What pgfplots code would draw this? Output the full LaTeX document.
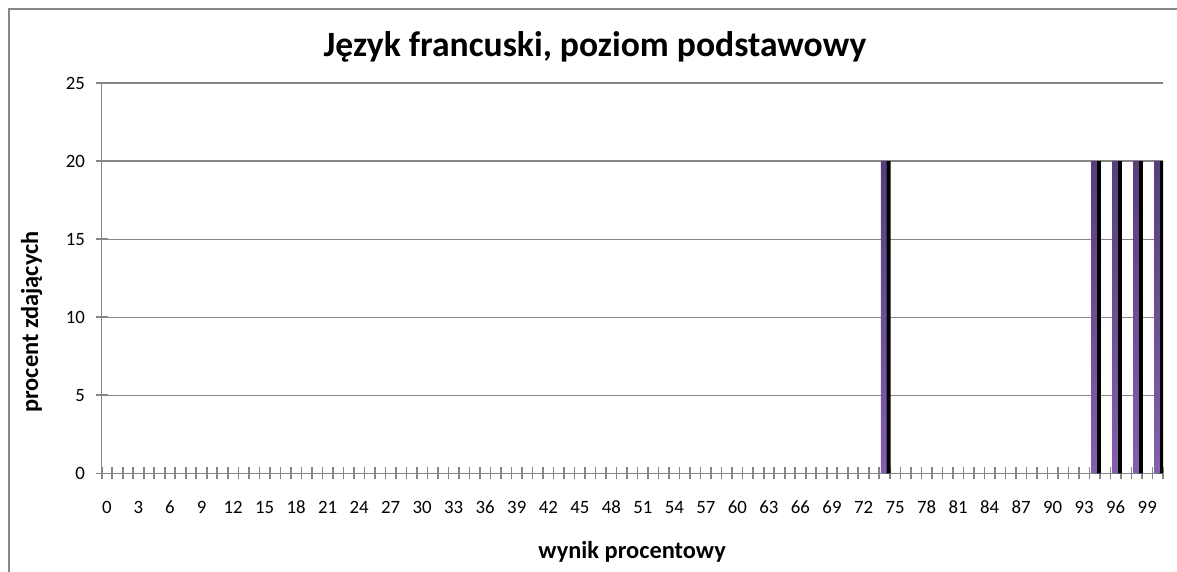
\documentclass[border=0pt]{standalone}
\usepackage{pgfplots}
\usepackage{pgfplotstable}
\pgfplotsset{compat=1.18}
\usepackage{fontspec}
\setmainfont{Carlito}
\definecolor{gridgray}{RGB}{134,134,134}
\definecolor{purpletop}{RGB}{88,62,124}
\definecolor{purplebot}{RGB}{130,96,172}

\pgfplotstableread[row sep=\\]{
x y\\
0 0\\ 1 0\\ 2 0\\ 3 0\\ 4 0\\ 5 0\\ 6 0\\ 7 0\\ 8 0\\ 9 0\\
10 0\\ 11 0\\ 12 0\\ 13 0\\ 14 0\\ 15 0\\ 16 0\\ 17 0\\ 18 0\\ 19 0\\
20 0\\ 21 0\\ 22 0\\ 23 0\\ 24 0\\ 25 0\\ 26 0\\ 27 0\\ 28 0\\ 29 0\\
30 0\\ 31 0\\ 32 0\\ 33 0\\ 34 0\\ 35 0\\ 36 0\\ 37 0\\ 38 0\\ 39 0\\
40 0\\ 41 0\\ 42 0\\ 43 0\\ 44 0\\ 45 0\\ 46 0\\ 47 0\\ 48 0\\ 49 0\\
50 0\\ 51 0\\ 52 0\\ 53 0\\ 54 0\\ 55 0\\ 56 0\\ 57 0\\ 58 0\\ 59 0\\
60 0\\ 61 0\\ 62 0\\ 63 0\\ 64 0\\ 65 0\\ 66 0\\ 67 0\\ 68 0\\ 69 0\\
70 0\\ 71 0\\ 72 0\\ 73 0\\ 74 20\\ 75 0\\ 76 0\\ 77 0\\ 78 0\\ 79 0\\
80 0\\ 81 0\\ 82 0\\ 83 0\\ 84 0\\ 85 0\\ 86 0\\ 87 0\\ 88 0\\ 89 0\\
90 0\\ 91 0\\ 92 0\\ 93 0\\ 94 20\\ 95 0\\ 96 20\\ 97 0\\ 98 20\\ 99 0\\
100 20\\
}\datatable

\begin{document}
\begin{tikzpicture}
\useasboundingbox (0,0) rectangle (588.5pt,-286pt);
\draw[gridgray, line width=1pt] (4.6pt,-300pt) -- (4.6pt,-4.6pt) -- (600pt,-4.6pt);
\begin{axis}[
  at={(50.85pt,-236.65pt)}, anchor=south west,
  scale only axis, width=530.65pt, height=195.15pt,
  xmin=-0.5, xmax=100.5, ymin=0, ymax=25,
  axis lines=left, axis line style={gridgray, -, line width=0.7pt},
  ytick={0,5,...,25},
  xtick={-0.5,0.5,...,100.5}, xticklabels={},
  extra x ticks={0,3,...,99},
  extra x tick style={major tick length=0pt},
  ymajorgrids, grid style={gridgray, line width=0.6pt},
  tick align=center, major tick length=6pt,
  tick style={gridgray, line width=0.8pt},
  /pgf/number format/assume math mode=true,
  tick label style={font=\fontsize{9.4}{11}\selectfont, black},
  xticklabel style={anchor=base, yshift=-19.9pt, inner sep=0pt},
  yticklabel style={anchor=east, xshift=-5.2pt, inner sep=0pt},
  title={Język francuski, poziom podstawowy},
  title style={font=\bfseries\fontsize{17.8}{20}\selectfont, at={(0.4648,1.0615)}, anchor=center},
  xlabel={wynik procentowy},
  xlabel style={font=\bfseries\fontsize{12.2}{14}\selectfont, at={(0.4998,-0.2016)}, anchor=center},
  ylabel={procent zdających},
  ylabel style={font=\bfseries\fontsize{12.2}{14}\selectfont, at={(-0.0660,0.3876)}, anchor=center},
  unbounded coords=discard,
]
\addplot[ybar, bar width=2.85pt, bar shift=1.6pt, fill=black, draw=none,
  y filter/.expression={y==0 ? nan : y}] table[x=x, y=y] {\datatable};
\addplot[ybar, bar width=2.85pt, bar shift=-0.4pt, draw=none,
  top color=purpletop, bottom color=purplebot,
  y filter/.expression={y==0 ? nan : y}] table[x=x, y=y] {\datatable};
\end{axis}
\end{tikzpicture}
\end{document}
